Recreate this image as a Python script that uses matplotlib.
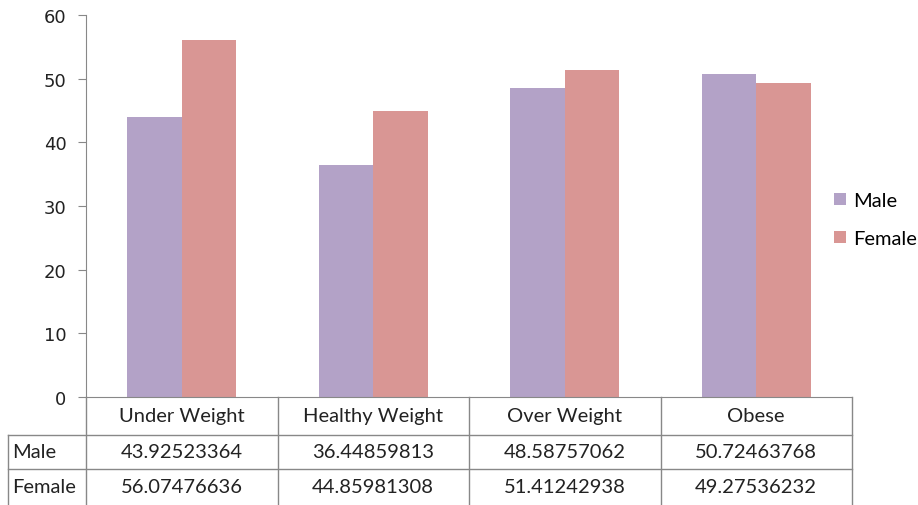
import matplotlib.pyplot as plt
import numpy as np

categories = ["Under Weight", "Healthy Weight", "Over Weight", "Obese"]
male = [43.92523364, 36.44859813, 48.58757062, 50.72463768]
female = [56.07476636, 44.85981308, 51.41242938, 49.27536232]
series_names = ["Male", "Female"]
colors = ["#B3A2C7", "#D99694"]

table_font = ["Lato", "DejaVu Sans"]

fig = plt.figure(figsize=(9.18, 5.06), dpi=100)
ax = fig.add_axes([86 / 918, 1 - 398 / 506, (852 - 86) / 918, (398 - 16) / 506])

x = np.arange(len(categories))
w = 0.285
ax.bar(x - w / 2, male, w, color=colors[0], label=series_names[0])
ax.bar(x + w / 2, female, w, color=colors[1], label=series_names[1])

ax.set_xlim(-0.5, len(categories) - 0.5)
ax.set_ylim(0, 60)
ax.set_yticks(range(0, 61, 10))
ax.tick_params(axis="y", labelsize=13, length=6, color="#888888", pad=8, labelcolor="#222222")
ax.set_xticks([])
for s in ["top", "right"]:
    ax.spines[s].set_visible(False)
ax.spines["left"].set_color("#888888")
ax.spines["bottom"].set_color("#888888")

# data table under the axes, in figure pixel coordinates
def fx(px):
    return px / 918

def fy(py):
    return 1 - py / 506

line_kw = dict(color="#888888", linewidth=1, transform=fig.transFigure)
col_edges = [86 + i * (852 - 86) / 4 for i in range(5)]
row_y = [398, 436, 470, 506]
fig.add_artist(plt.Line2D([fx(8), fx(852)], [fy(436), fy(436)], **line_kw))
fig.add_artist(plt.Line2D([fx(8), fx(852)], [fy(470), fy(470)], **line_kw))
fig.add_artist(plt.Line2D([fx(8), fx(8)], [fy(436), fy(506)], **line_kw))
for cx in col_edges:
    fig.add_artist(plt.Line2D([fx(cx), fx(cx)], [fy(398), fy(506)], **line_kw))

for i, cat in enumerate(categories):
    cx = (col_edges[i] + col_edges[i + 1]) / 2
    fig.text(fx(cx), fy(417), cat, ha="center", va="center", fontsize=14.5,
             family=table_font, color="#222222")
    for r, vals in enumerate([male, female]):
        cy = (row_y[r + 1] + row_y[r + 2]) / 2
        fig.text(fx(cx), fy(cy), f"{vals[i]:.8f}", ha="center", va="center",
                 fontsize=14.5, family=table_font, color="#222222")

for r, name in enumerate(series_names):
    cy = (row_y[r + 1] + row_y[r + 2]) / 2
    fig.text(fx(12), fy(cy), name, ha="left", va="center", fontsize=14.5,
             family=table_font, color="#222222")

leg = fig.legend(loc="upper left", bbox_to_anchor=(fx(834), fy(193)), frameon=False,
                 borderpad=0, borderaxespad=0, handlelength=0.6, handleheight=0.6,
                 handletextpad=0.35, labelspacing=1.05,
                 prop={"family": table_font, "size": 14.5})

fig.savefig("out.png", dpi=100)
